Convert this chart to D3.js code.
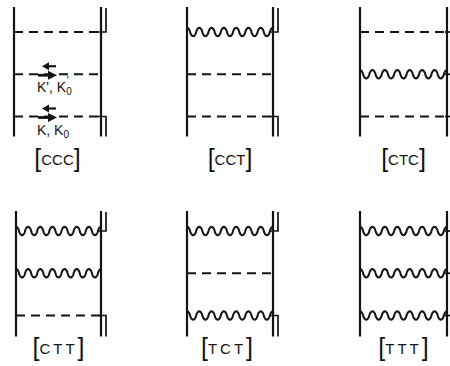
<!DOCTYPE html>
<html><head><meta charset="utf-8">
<script src="https://cdn.jsdelivr.net/npm/d3@7"></script>
<style>html,body{margin:0;padding:0;background:#fff;}svg{display:block;}</style>
</head><body>
<svg id="c" width="450" height="366"></svg>
<script>
// ---- data ----
const labels = ["CCC", "CCT", "CTC", "CTT", "TCT", "TTT"];
// rung type from top to bottom (C = dashed Coulomb, T = wavy transverse)
const rungsTopToBottom = [
  ["C", "C", "C"],
  ["T", "C", "C"],
  ["C", "T", "C"],
  ["T", "T", "C"],
  ["T", "C", "T"],
  ["T", "T", "T"]
];
const doubleRight = [true, true, false, true, true, false];
const momentumLabels = [
  {panel: 0, rung: 1, main: "K', K", sub: "0", prime: "'"},
  {panel: 0, rung: 2, main: "K, K", sub: "0", prime: ""}
];

// ---- layout scales ----
const svg = d3.select("#c");
const colX = d3.scaleLinear().domain([0, 2]).range([14, 360]);
const rowY = d3.scaleLinear().domain([0, 1]).range([32, 231]);
const rungY = d3.scaleLinear().domain([0, 2]).range([0, 84.5]);
const panelW = 86;
const topExt = [25, 20], botExt = [20, 21];
const labelDy = [42, 32];

const wave = (x0, x1, yc, cycles, amp) => {
  const pts = d3.range(0, 281).map(i => {
    const t = i / 280;
    const c = Math.cos(2 * Math.PI * cycles * t);
    const s = Math.sign(c) * Math.pow(Math.abs(c), 0.7);
    return [x0 + (x1 - x0) * t, yc - amp * s];
  });
  return d3.line()(pts);
};

const ink = "#141414";

labels.forEach((lab, i) => {
  const col = i % 3, row = Math.floor(i / 3);
  const xl = colX(col) + (row === 1 && col === 0 ? 2 : 0);
  const xr = colX(col) + panelW + (col === 1 ? 0 : 1);
  const y0 = rowY(row);
  const ys = [0, 1, 2].map(k => y0 + rungY(k));
  const yTop = ys[0] - topExt[row], yBot = ys[2] + botExt[row];
  const g = svg.append("g");

  [xl, xr].forEach(x => g.append("line").attr("x1", x).attr("x2", x)
    .attr("y1", yTop).attr("y2", yBot)
    .attr("stroke", ink).attr("stroke-width", 2.2));

  rungsTopToBottom[i].forEach((t, k) => {
    const y = ys[k];
    if (t === "C") {
      g.append("line").attr("x1", xl).attr("x2", xr + 2).attr("y1", y).attr("y2", y)
        .attr("stroke", ink).attr("stroke-width", 2)
        .attr("stroke-dasharray", "9,6");
    } else {
      g.append("path").attr("d", wave(xl, xr, y, 7, 4.2))
        .attr("fill", "none").attr("stroke", ink).attr("stroke-width", 2)
        .attr("stroke-linejoin", "round");
    }
    if (!doubleRight[i]) {
      g.append("line").attr("x1", xr - 2).attr("x2", xr + 4).attr("y1", y).attr("y2", y)
        .attr("stroke", ink).attr("stroke-width", 1.7);
    }
  });

  if (doubleRight[i]) {
    const xo = xr + 5;
    g.append("path").attr("d", `M${xo},${yTop + 1}V${ys[0]}H${xr - 3}`)
      .attr("fill", "none").attr("stroke", ink).attr("stroke-width", 1.7);
    g.append("path").attr("d", `M${xr - 3},${ys[2]}H${xo}V${yBot}`)
      .attr("fill", "none").attr("stroke", ink).attr("stroke-width", 1.7);
  }

  const cx = (xl + xr) / 2 + (row === 1 && col === 1 ? -3 : 0);
  const ty = ys[2] + labelDy[row] + 6;
  const txt = g.append("text").attr("x", cx).attr("y", ty)
    .attr("text-anchor", "middle")
    .attr("font-family", "'Liberation Sans', Arial, sans-serif")
    .attr("fill", ink);
  txt.append("tspan").attr("font-size", 25).attr("font-weight", 300).attr("dy", 2).text("[");
  txt.append("tspan").attr("font-size", 15).attr("dy", -2)
    .attr("letter-spacing", row === 1 ? 3 : 0).text(lab);
  txt.append("tspan").attr("font-size", 25).attr("font-weight", 300).attr("dy", 2).text("]");
});

momentumLabels.forEach(m => {
  const y = rowY(0) + rungY(m.rung);
  const g = svg.append("g");
  g.append("line").attr("x1", 56).attr("x2", 46).attr("y1", y - 8).attr("y2", y - 8)
    .attr("stroke", ink).attr("stroke-width", 2.2);
  g.append("path").attr("d", `M42,${y - 8}L49,${y - 12}L49,${y - 4}Z`).attr("fill", ink);
  g.append("line").attr("x1", 38).attr("x2", 51).attr("y1", y + 1).attr("y2", y + 1)
    .attr("stroke", ink).attr("stroke-width", 2.8);
  g.append("path").attr("d", `M57,${y + 1}L48,${y - 3.5}L48,${y + 5.5}Z`).attr("fill", ink);
  const t = g.append("text").attr("x", 37).attr("y", y + 18)
    .attr("font-family", "'Liberation Sans', Arial, sans-serif")
    .attr("font-size", 14).attr("fill", ink);
  t.append("tspan").text(m.main);
  t.append("tspan").attr("font-size", 10).attr("dy", 3).text(m.sub);
  if (m.prime) t.append("tspan").attr("font-size", 11).attr("dx", -5).attr("dy", -11).text(m.prime);
});
</script>
</body></html>
